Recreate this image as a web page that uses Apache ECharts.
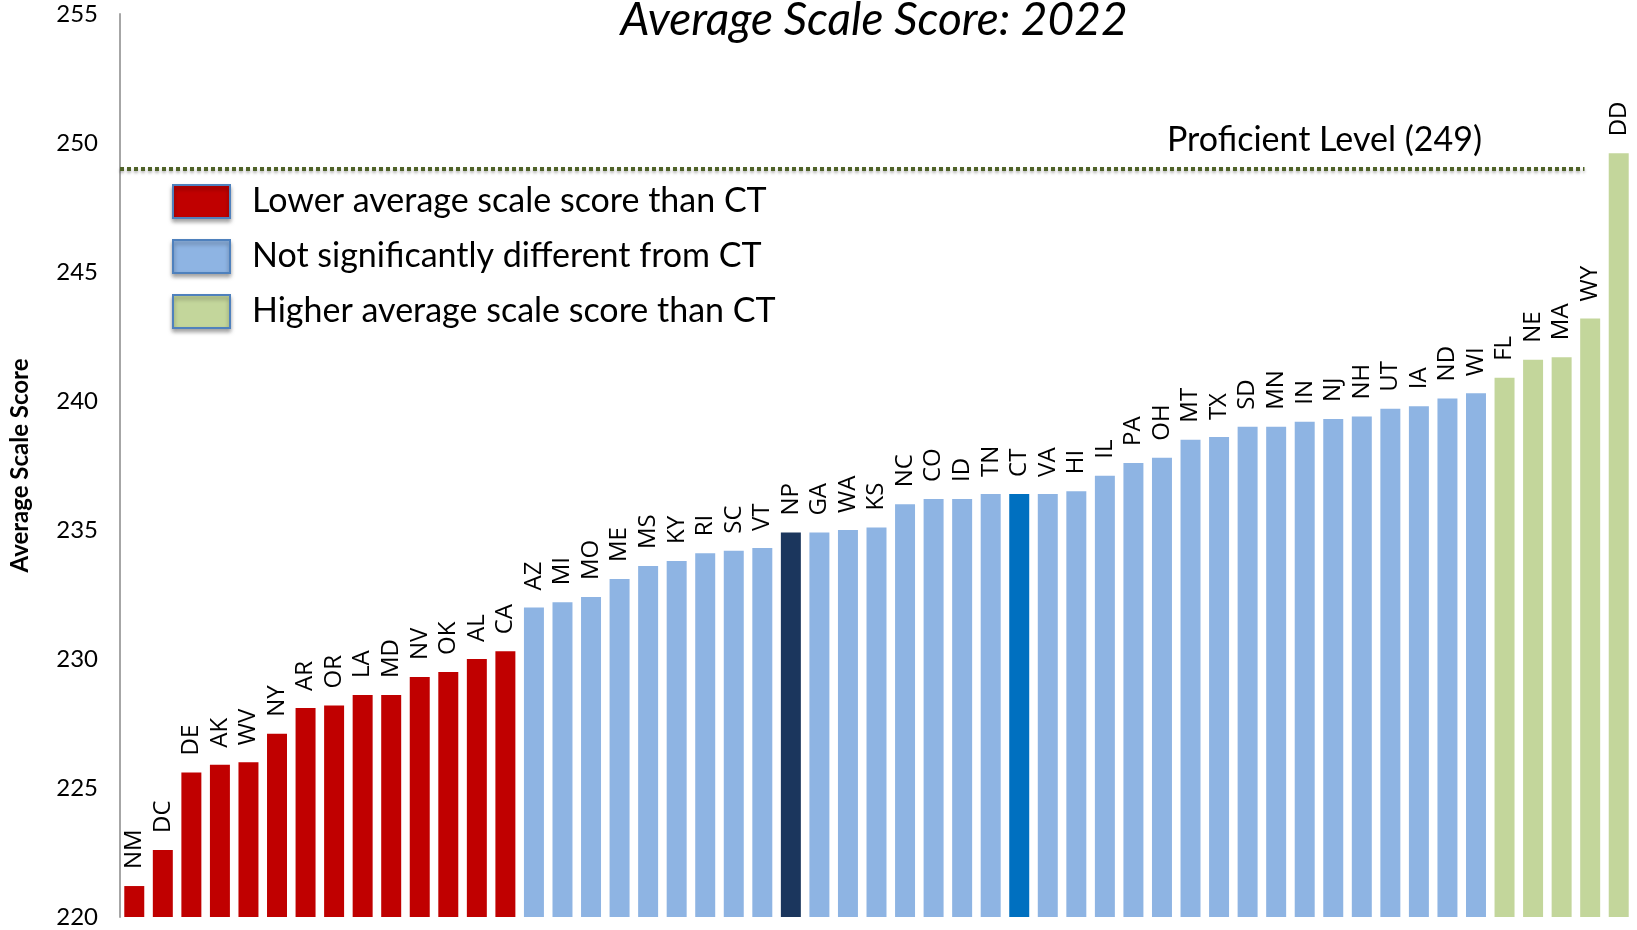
<!DOCTYPE html>
<html>
<head>
<meta charset="utf-8">
<script src="https://cdn.jsdelivr.net/npm/echarts@6/dist/echarts.min.js"></script>
<style>
  html, body { margin: 0; padding: 0; background: #fff; }
  #chart { width: 1637px; height: 930px; }
</style>
</head>
<body>
<div id="chart"></div>
<script>
// states sorted by score, as in the picture
var states = ['NM', 'DC', 'DE', 'AK', 'WV', 'NY', 'AR', 'OR', 'LA', 'MD', 'NV', 'OK', 'AL', 'CA',
    'AZ', 'MI', 'MO', 'ME', 'MS', 'KY', 'RI', 'SC', 'VT', 'NP', 'GA', 'WA', 'KS', 'NC', 'CO', 'ID',
    'TN', 'CT', 'VA', 'HI', 'IL', 'PA', 'OH', 'MT', 'TX', 'SD', 'MN', 'IN', 'NJ', 'NH', 'UT', 'IA',
    'ND', 'WI', 'FL', 'NE', 'MA', 'WY', 'DD'];
var scores = [221.2, 222.6, 225.6, 225.9, 226.0, 227.1, 228.1, 228.2, 228.6, 228.6, 229.3, 229.5, 230.0, 230.3,
    232.0, 232.2, 232.4, 233.1, 233.6, 233.8, 234.1, 234.2, 234.3, 234.9, 234.9, 235.0, 235.1, 236.0, 236.2, 236.2,
    236.4, 236.4, 236.4, 236.5, 237.1, 237.6, 237.8, 238.5, 238.6, 239.0, 239.0, 239.2, 239.3, 239.4, 239.7, 239.8,
    240.1, 240.3, 240.9, 241.6, 241.7, 243.2, 249.6];
// 0 = lower, 1 = not significantly different, 2 = higher
var groups = [0, 0, 0, 0, 0, 0, 0, 0, 0, 0, 0, 0, 0, 0,
    1, 1, 1, 1, 1, 1, 1, 1, 1, 1, 1, 1, 1, 1, 1, 1,
    1, 1, 1, 1, 1, 1, 1, 1, 1, 1, 1, 1, 1, 1, 1, 1,
    1, 1, 2, 2, 2, 2, 2];
var groupNames = ['Lower average scale score than CT', 'Not significantly different from CT', 'Higher average scale score than CT'];
var groupColors = ['#C00000', '#8EB4E3', '#C3D69B'];
var specialColors = { NP: '#1B365D', CT: '#0070C0' };
var yTicks = [220, 225, 230, 235, 240, 245, 250, 255];
var proficient = 249;

var chart = echarts.init(document.getElementById('chart'));

var series = groupNames.map(function (name, g) {
    var data = [];
    for (var i = 0; i < states.length; i++) {
        if (groups[i] != g) { data.push('-'); continue; }
        if (specialColors[states[i]]) {
            data.push({ value: scores[i], itemStyle: { color: specialColors[states[i]] } });
        } else {
            data.push(scores[i]);
        }
    }
    return {
        name: name,
        type: 'bar',
        data: data,
        barGap: '-100%',
        barCategoryGap: '30%',
        itemStyle: { color: groupColors[g] },
        label: {
            show: true,
            position: 'top',
            rotate: 90,
            align: 'left',
            verticalAlign: 'middle',
            distance: 17,
            formatter: '{b}',
            fontFamily: 'Open Sans',
            fontSize: 24,
            color: '#000'
        }
    };
});

// proficient level line, on a hidden value axis that matches the categories
series.push({
    name: 'proficient',
    type: 'line',
    xAxisIndex: 1,
    data: [],
    markLine: {
        silent: true,
        symbol: 'none',
        label: { show: false },
        lineStyle: {
            color: '#4F6228',
            width: 4,
            type: [4, 3],
            shadowBlur: 3,
            shadowOffsetY: 2,
            shadowColor: 'rgba(0,0,0,0.3)'
        },
        data: [[{ coord: [0, proficient] }, { coord: [51.3, proficient] }]]
    }
});

var option = {
    animation: false,
    title: [{
        text: 'Average Scale Score: 2022',
        left: 869,
        textAlign: 'center',
        top: -8,
        textStyle: { fontFamily: 'Lato', fontStyle: 'italic', fontWeight: 'normal', fontSize: 46, color: '#000' }
    }, {
        text: 'Proficient Level (' + proficient + ')',
        left: 1162,
        top: 118,
        textStyle: { fontFamily: 'Lato', fontWeight: 'normal', fontSize: 34, color: '#000' }
    }],
    legend: {
        data: groupNames,
        orient: 'vertical',
        left: 172,
        top: 184,
        padding: 0,
        itemWidth: 57,
        itemHeight: 33,
        itemGap: 20,
        icon: 'rect',
        itemStyle: {
            borderColor: '#4F81BD',
            borderWidth: 2,
            shadowBlur: 4,
            shadowOffsetY: 3,
            shadowColor: 'rgba(0,0,0,0.35)'
        },
        textStyle: { fontFamily: 'Lato', fontSize: 34, lineHeight: 33, color: '#000', padding: [0, 0, 0, 17] }
    },
    grid: { left: 102, right: 4, top: 14, bottom: 13 },
    xAxis: [{
        type: 'category',
        data: states,
        axisLine: { show: false },
        axisTick: { show: false },
        axisLabel: { show: false }
    }, {
        type: 'value',
        min: 0,
        max: states.length,
        show: false
    }],
    yAxis: {
        type: 'value',
        min: yTicks[0],
        max: yTicks[yTicks.length - 1],
        interval: 5,
        name: 'Average Scale Score',
        nameLocation: 'middle',
        nameGap: 88,
        nameTextStyle: { fontFamily: 'Lato', fontWeight: 'bold', fontSize: 24, color: '#000' },
        axisLine: { show: true, lineStyle: { color: '#A6A6A6', width: 2 } },
        axisTick: { show: false },
        splitLine: { show: false },
        axisLabel: { fontFamily: 'Lato', fontSize: 24, color: '#000', margin: 22 }
    },
    series: series
};

chart.setOption(option);
</script>
</body>
</html>
